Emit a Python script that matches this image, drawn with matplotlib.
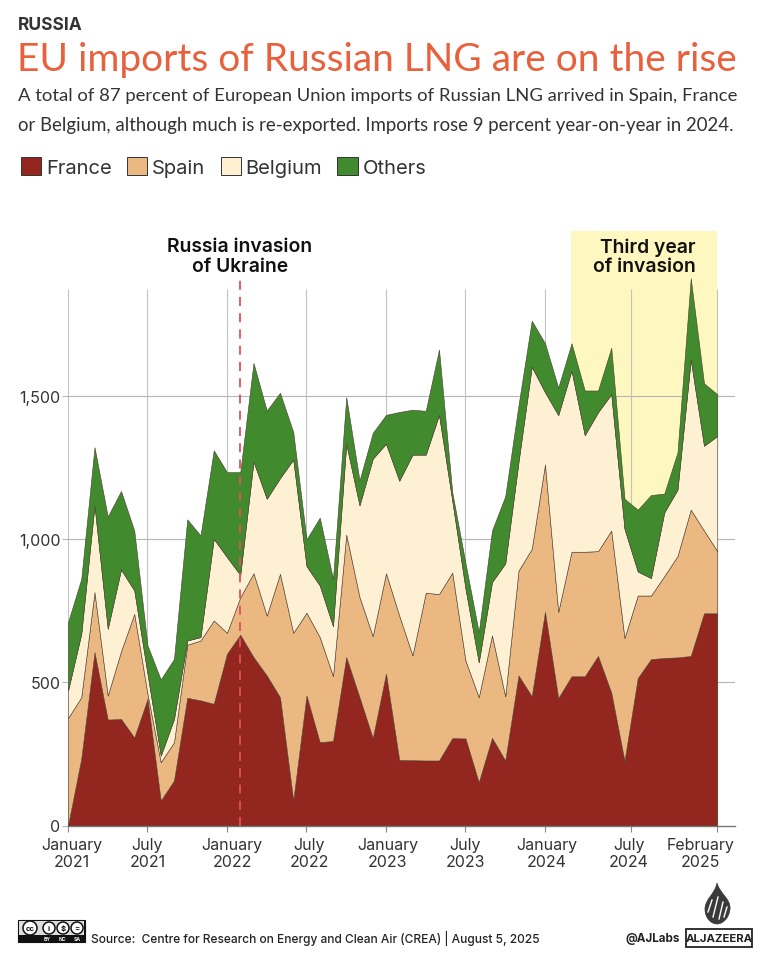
import matplotlib

matplotlib.use("Agg")
import matplotlib.pyplot as plt
from matplotlib.patches import Circle, Patch, PathPatch, Rectangle
from matplotlib.path import Path
from matplotlib.transforms import ScaledTranslation

plt.rcParams["font.family"] = ["Inter", "Open Sans", "DejaVu Sans"]

FRANCE = [0, 233, 605, 370, 372, 307, 442, 87, 157, 446, 437, 425, 600, 666, 588, 524, 448,
          87, 454, 291, 295, 588, 448, 305, 530, 229, 228, 227, 227, 305, 304, 151, 306, 227,
          524, 451, 746, 445, 521, 521, 592, 464, 226, 515, 581, 585, 587, 592, 741, 741]
SPAIN = [375, 215, 210, 84, 236, 432, 18, 134, 134, 185, 209, 291, 73, 131, 293, 209, 431,
         586, 289, 367, 227, 428, 350, 356, 351, 504, 366, 586, 581, 578, 272, 297, 358, 224,
         366, 515, 515, 301, 435, 435, 366, 566, 429, 288, 222, 286, 354, 511, 289, 217]
BELGIUM = [96, 221, 303, 233, 286, 82, 70, 23, 81, 15, 12, 285, 264, 78, 390, 408, 334,
           605, 163, 180, 174, 317, 320, 620, 452, 471, 701, 482, 626, 252, 251, 122, 186, 464,
           380, 636, 252, 687, 633, 407, 485, 476, 381, 84, 61, 222, 232, 524, 296, 402]
OTHERS = [239, 192, 203, 392, 274, 209, 99, 266, 210, 423, 355, 309, 297, 359, 344, 308, 298,
          96, 93, 237, 165, 163, 87, 90, 101, 240, 157, 153, 228, 29, 89, 105, 180, 235,
          198, 161, 171, 96, 95, 156, 76, 162, 105, 216, 290, 66, 130, 284, 218, 146]
MONTHS = list(range(len(FRANCE)))

SERIES_NAMES = ["France", "Spain", "Belgium", "Others"]
COLORS = ["#93261F", "#EBB882", "#FDF0D3", "#428A2E"]

X_TICKS = [0, 6, 12, 18, 24, 30, 36, 42.5, 49]
X_LABELS = ["January\n2021", "July\n2021", "January\n2022", "July\n2022", "January\n2023",
            "July\n2023", "January\n2024", "July\n2024", "February\n2025"]
X_LABEL_SHIFT = [4, 0, 5, 3, 2, 0, 2, -2, -17]
Y_TICKS = [0, 500, 1000, 1500]
Y_LABELS = ["0", "500", "1,000", "1,500"]

INK = "#333333"
HEAD_FONT = ["Lato", "Open Sans", "DejaVu Sans"]

fig = plt.figure(figsize=(7.7, 9.62), dpi=100)

# main chart, placed in pixels of the 770x962 canvas
left, right, top, bottom = 68, 735, 232, 826.5
ax = fig.add_axes([left / 770, 1 - bottom / 962, (right - left) / 770, (bottom - top) / 962])
ax.set_xlim(0, 50.34)
ax.set_ylim(0, 2076)
for name in ["top", "right", "left"]:
    ax.spines[name].set_visible(False)
ax.spines["bottom"].set_color("#777777")
ax.spines["bottom"].set_linewidth(1)

ax.add_patch(Rectangle((38, 0), 11, 2076, facecolor="#FEF7BF", edgecolor="none", zorder=0))
ax.hlines(Y_TICKS[1:], 0, 50.34, color="#B5B5B5", linewidth=0.8, zorder=1)
ax.vlines(X_TICKS, 0, 1872, color="#C2C2C2", linewidth=0.8, zorder=1)

ax.stackplot(MONTHS, FRANCE, SPAIN, BELGIUM, OTHERS, colors=COLORS,
             edgecolor="#4A3A30", linewidth=0.4, zorder=2)
ax.vlines(13, 0, 1919, color="#E0525A", linewidth=1.3, linestyles=(0, (5, 4)), zorder=3)

ax.set_xticks(X_TICKS, X_LABELS, fontsize=11.5, color=INK, linespacing=1.2)
ax.set_yticks(Y_TICKS, Y_LABELS, fontsize=11.5, color=INK)
ax.tick_params(axis="x", length=4, width=0.8, color="#888888", pad=4)
ax.tick_params(axis="y", length=4.5, width=0.8, color="#B5B5B5", pad=1)
for label, shift in zip(ax.get_xticklabels(), X_LABEL_SHIFT):
    label.set_transform(label.get_transform() + ScaledTranslation(shift / 100, 0, fig.dpi_scale_trans))

# overlay for the headline texts, badge and logo, in pixels
page = fig.add_axes([0, 0, 1, 1], zorder=5)
page.set_xlim(0, 770)
page.set_ylim(962, 0)
page.axis("off")

page.text(18, 25, "RUSSIA", fontsize=12.5, fontweight="bold", color=INK, va="center")
page.text(17, 60, "EU imports of Russian LNG are on the rise", fontsize=28, family=HEAD_FONT,
          color="#E8603C", va="center")
page.text(18, 96, "A total of 87 percent of European Union imports of Russian LNG arrived in Spain, France",
          fontsize=13.3, family=HEAD_FONT, color=INK, va="center")
page.text(18, 125, "or Belgium, although much is re-exported. Imports rose 9 percent year-on-year in 2024.",
          fontsize=13.45, family=HEAD_FONT, color=INK, va="center")

handles = [Patch(facecolor=c, edgecolor="#333333", linewidth=0.7) for c in COLORS]
page.legend(handles, SERIES_NAMES, loc="upper left", bbox_to_anchor=(21 / 770, 1 - 158 / 962),
            bbox_transform=fig.transFigure, ncols=4, frameon=False, fontsize=14.5, handlelength=1.0,
            handleheight=1.0, handletextpad=0.25, columnspacing=0.75, borderpad=0, borderaxespad=0,
            labelcolor=INK)

page.text(240, 257, "Russia invasion\nof Ukraine", fontsize=13.9, fontweight="semibold", color="#111111",
          ha="center", va="center", linespacing=1.1)
page.text(696, 257, "Third year\nof invasion", fontsize=13.9, fontweight="semibold", color="#111111",
          ha="right", va="center", multialignment="right", linespacing=1.1)

# creative commons badge
page.add_patch(Rectangle((18, 921), 67, 22, facecolor="#111111", edgecolor="#111111", linewidth=0.8))
page.add_patch(Rectangle((19, 922), 65, 14, facecolor="#DDDDDD", edgecolor="none"))
for cx, mark in zip([30, 49, 63, 77], ["cc", "i", "$", "="]):
    size = 7 if mark == "cc" else 6
    page.add_patch(Circle((cx, 929), size, facecolor="white", edgecolor="#111111", linewidth=1.1))
    page.text(cx, 929, mark, fontsize=5.5, fontweight="bold", ha="center", va="center", color="#111111")
for cx, mark in zip([47, 62, 77], ["BY", "NC", "SA"]):
    page.text(cx, 940, mark, fontsize=3.6, fontweight="bold", ha="center", va="center", color="white")

page.text(91, 939, "Source:  Centre for Research on Energy and Clean Air (CREA) | August 5, 2025",
          fontsize=8.6, fontweight="medium", color="#222222", va="center")
page.text(625, 939, "@AJLabs", fontsize=8.4, fontweight="bold", color="#222222", va="center")
page.add_patch(Rectangle((686, 930), 66, 18, facecolor="white", edgecolor="#222222", linewidth=1.3))
page.text(719, 939, "ALJAZEERA", fontsize=8.2, fontweight="bold", color="#222222", ha="center", va="center")

# rough stand-in for the calligraphic logo
drop = Path([(717, 884), (720, 895), (731, 900), (730, 910), (729, 920), (722, 925), (717, 925),
             (712, 925), (705, 920), (705, 910), (705, 900), (715, 895), (717, 884), (717, 884)],
            [Path.MOVETO] + [Path.CURVE4] * 12 + [Path.CLOSEPOLY])
page.add_patch(PathPatch(drop, facecolor="#3A3A3A", edgecolor="#3A3A3A", linewidth=0.5))
for x0, y0, x1, y1 in [(712, 901, 708, 913), (718, 898, 713, 918), (723, 903, 719, 920), (727, 908, 724, 918)]:
    page.plot([x0, x1], [y0, y1], color="white", linewidth=1.0)

fig.savefig("out.png", dpi=100)
